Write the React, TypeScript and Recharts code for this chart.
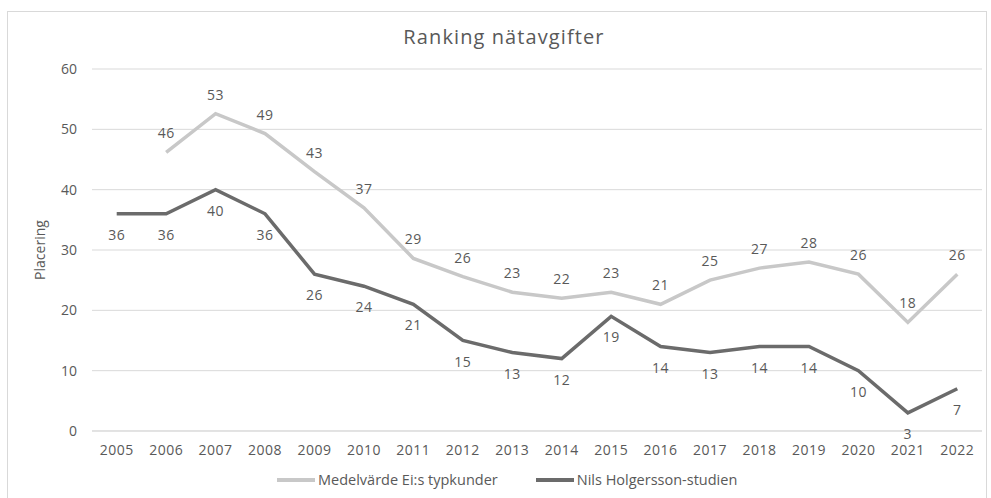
import React from "react";
import { CartesianGrid, LabelList, Line, LineChart, XAxis, YAxis } from "recharts";

const years = [
  "2005", "2006", "2007", "2008", "2009", "2010", "2011", "2012", "2013",
  "2014", "2015", "2016", "2017", "2018", "2019", "2020", "2021", "2022",
];
const medelvarde = [
  null, 46.2, 52.6, 49.3, 43, 37, 28.6, 25.6, 23, 22, 23, 21, 25, 27, 28, 26, 18, 26,
];
const nilsHolgersson = [36, 36, 40, 36, 26, 24, 21, 15, 13, 12, 19, 14, 13, 14, 14, 10, 3, 7];
const yTicks = [0, 10, 20, 30, 40, 50, 60];

const LIGHT = "#c8c8c8";
const DARK = "#6b6b6b";
const TEXT = "#595959";
const FONT = "'Open Sans', sans-serif";
const FS = 14;

const data = years.map((year, i) => ({
  year,
  medel: medelvarde[i],
  nils: nilsHolgersson[i],
}));

function makeLabel(dy: number) {
  return (props: any) => {
    const { x, y, value } = props;
    if (value == null) return null;
    return (
      <text
        x={x}
        y={y + dy}
        textAnchor="middle"
        fontSize={FS}
        fontFamily={FONT}
        fill={TEXT}
        letterSpacing={0.5}
      >
        {Math.round(value)}
      </text>
    );
  };
}

function LegendRow() {
  const item = (color: string, text: string, gap: number) => (
    <div style={{ display: "flex", alignItems: "center", marginRight: gap }}>
      <div style={{ width: 38, height: 4, background: color, marginRight: 3 }} />
      <span>{text}</span>
    </div>
  );
  return (
    <div
      style={{
        position: "absolute",
        top: 470,
        left: 277,
        display: "flex",
        fontFamily: FONT,
        fontSize: 14.5,
        color: TEXT,
        whiteSpace: "nowrap",
      }}
    >
      {item(LIGHT, "Medelvärde Ei:s typkunder", 38)}
      {item(DARK, "Nils Holgersson-studien", 0)}
    </div>
  );
}

export default function App() {
  return (
    <div style={{ position: "absolute", left: 0, top: 0, width: 991, height: 498, background: "#fff" }}>
      <div
        style={{
          position: "absolute",
          left: 7,
          top: 11,
          width: 980,
          height: 495,
          border: "1px solid #d9d9d9",
          boxSizing: "border-box",
        }}
      />
      <div
        style={{
          position: "absolute",
          top: 23,
          left: 0,
          width: 1008,
          textAlign: "center",
          fontFamily: FONT,
          fontSize: 20,
          letterSpacing: 1.1,
          color: TEXT,
        }}
      >
        Ranking nätavgifter
      </div>
      <div style={{ position: "absolute", left: 0, top: 0 }}>
        <LineChart
          width={991}
          height={498}
          data={data}
          margin={{ top: 69, right: 9, bottom: 37, left: 0 }}
        >
          <CartesianGrid vertical={false} stroke="#d9d9d9" />
          <XAxis
            dataKey="year"
            tickLine={false}
            axisLine={{ stroke: "#d9d9d9" }}
            tick={{ fill: TEXT, fontSize: FS, fontFamily: FONT, letterSpacing: 0.5 }}
            tickMargin={8}
            interval={0}
            padding={{ left: 24.7, right: 24.7 }}
          />
          <YAxis
            width={92}
            domain={[0, 60]}
            ticks={yTicks}
            tickLine={false}
            axisLine={false}
            tickMargin={9}
            tick={{ fill: TEXT, fontSize: FS, fontFamily: FONT }}
            label={{
              value: "Placering",
              angle: -90,
              position: "insideLeft",
              offset: 40,
              style: { fill: TEXT, fontSize: FS, fontFamily: FONT, textAnchor: "middle" },
            }}
          />
          <Line
            dataKey="medel"
            stroke={LIGHT}
            strokeWidth={3.5}
            dot={false}
            isAnimationActive={false}
          >
            <LabelList dataKey="medel" content={makeLabel(-14)} />
          </Line>
          <Line
            dataKey="nils"
            stroke={DARK}
            strokeWidth={3.5}
            dot={false}
            isAnimationActive={false}
          >
            <LabelList dataKey="nils" content={makeLabel(26)} />
          </Line>
        </LineChart>
      </div>
      <LegendRow />
    </div>
  );
}
